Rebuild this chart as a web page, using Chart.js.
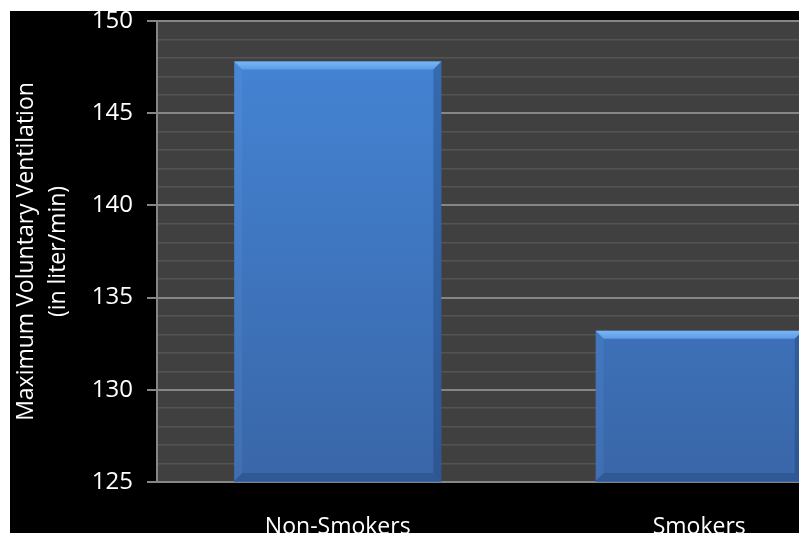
<!DOCTYPE html>
<html>
<head>
<meta charset="utf-8">
<script src="https://cdn.jsdelivr.net/npm/chart.js@4"></script>
<style>
  html, body { margin: 0; padding: 0; background: #fff; overflow: hidden; }
  #wrap { position: absolute; left: 10px; top: 11px; width: 870px; height: 560px; background: #000; }
</style>
</head>
<body>
<div id="wrap"><canvas id="myChart"></canvas></div>
<script>
"use strict";
// Data
const groups = ["Non-Smokers", "Smokers"];
const mvv = [147.8, 133.2];
const yMin = 125;
const yMax = 150;

// plot area background
const plotBg = {
    id: "plotBg",
    beforeDraw(chart) {
        const { ctx, chartArea: a } = chart;
        ctx.save();
        ctx.fillStyle = "#404040";
        ctx.fillRect(a.left, a.top, a.right - a.left, a.bottom - a.top);
        ctx.restore();
    },
};

// bevel look on the bars
const bevel = {
    id: "bevel",
    afterDatasetsDraw(chart) {
        const ctx = chart.ctx;
        const b = 8;
        chart.getDatasetMeta(0).data.forEach((bar) => {
            const l = bar.x - bar.width / 2, r = bar.x + bar.width / 2;
            const t = bar.y, btm = Math.min(bar.base, chart.chartArea.bottom - 1);
            ctx.save();
            // top
            const g = ctx.createLinearGradient(0, t, 0, t + b);
            g.addColorStop(0, "#7ab6f6");
            g.addColorStop(1, "#5b9ae6");
            ctx.fillStyle = g;
            ctx.beginPath();
            ctx.moveTo(l, t); ctx.lineTo(r, t); ctx.lineTo(r - b, t + b); ctx.lineTo(l + b, t + b);
            ctx.fill();
            // left
            ctx.fillStyle = "rgba(110,160,225,0.15)";
            ctx.beginPath();
            ctx.moveTo(l, t); ctx.lineTo(l + b, t + b); ctx.lineTo(l + b, btm - b); ctx.lineTo(l, btm);
            ctx.fill();
            // right
            ctx.fillStyle = "rgba(20,50,100,0.3)";
            ctx.beginPath();
            ctx.moveTo(r, t); ctx.lineTo(r - b, t + b); ctx.lineTo(r - b, btm - b); ctx.lineTo(r, btm);
            ctx.fill();
            // bottom
            ctx.fillStyle = "rgba(25,55,105,0.3)";
            ctx.beginPath();
            ctx.moveTo(l, btm); ctx.lineTo(l + b, btm - b); ctx.lineTo(r - b, btm - b); ctx.lineTo(r, btm);
            ctx.fill();
            ctx.restore();
        });
    },
};

const data = {
    labels: groups,
    datasets: [
        {
            data: mvv,
            backgroundColor(c) {
                const a = c.chart.chartArea;
                if (!a) return "#3f7bc8";
                const g = c.chart.ctx.createLinearGradient(0, a.top, 0, a.bottom);
                g.addColorStop(0, "#4586d7");
                g.addColorStop(1, "#3966a8");
                return g;
            },
            borderWidth: 0,
            barPercentage: 0.573,
            categoryPercentage: 1,
        },
    ],
};

const config = {
    type: "bar",
    data: data,
    plugins: [plotBg, bevel],
    options: {
        responsive: true,
        maintainAspectRatio: false,
        animation: false,
        layout: { padding: { top: 10, left: 0, right: 0, bottom: 0 } },
        plugins: {
            legend: { display: false },
            tooltip: { enabled: false },
        },
        scales: {
            x: {
                grid: { display: false },
                border: { display: true, color: "#868686", width: 2 },
                ticks: {
                    color: "#ffffff",
                    padding: 24,
                    font: { family: "Open Sans", size: 23 },
                },
                afterFit(s) {
                    s.height = 89;
                    s.paddingLeft = 0;
                    s.paddingRight = 0;
                },
            },
            y: {
                min: yMin,
                max: yMax,
                ticks: {
                    stepSize: 1,
                    autoSkip: false,
                    color: "#ffffff",
                    padding: 14,
                    font: { family: "Open Sans", size: 24 },
                    callback: (v) => (v % 5 === 0 ? v : ""),
                },
                grid: {
                    color: (c) => (c.tick && c.tick.value % 5 === 0 ? "#868686" : "#545454"),
                    tickColor: (c) => (c.tick && c.tick.value % 5 === 0 ? "#868686" : "rgba(0,0,0,0)"),
                    lineWidth: (c) => (c.tick && c.tick.value % 5 === 0 ? 2 : 1.5),
                    tickLength: 10,
                },
                border: { display: true, color: "#868686", width: 2 },
                title: {
                    display: true,
                    text: ["Maximum Voluntary Ventilation", "(in liter/min)"],
                    color: "#ffffff",
                    padding: { top: 0, bottom: 0 },
                    font: { family: "Open Sans", size: 23, lineHeight: 1.4 },
                },
                afterFit(s) {
                    s.width = 147;
                    s.paddingTop = 0;
                    s.paddingBottom = 0;
                },
            },
        },
    },
};

const myChart = new Chart(document.getElementById("myChart"), config);
</script>
</body>
</html>
